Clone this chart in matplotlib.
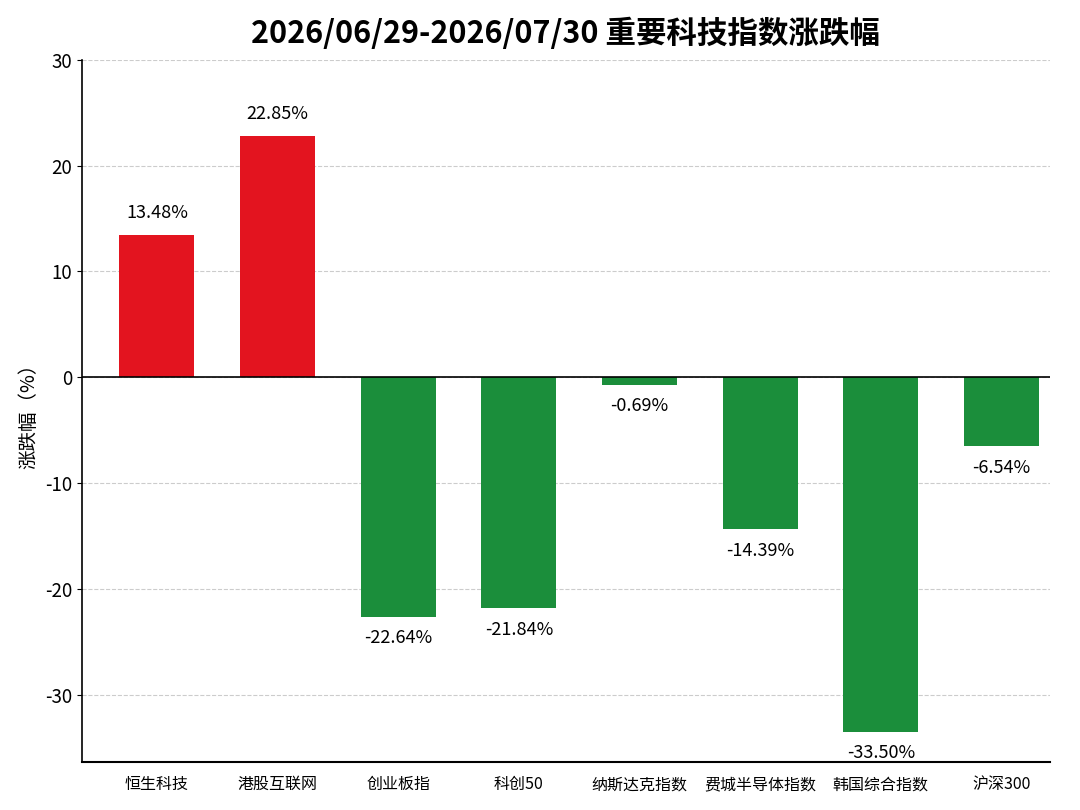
import matplotlib
matplotlib.use("Agg")
import matplotlib.pyplot as plt
import numpy as np

plt.rcParams['font.family'] = ['Noto Sans CJK SC', 'DejaVu Sans']
plt.rcParams['axes.unicode_minus'] = False

names = ["恒生科技", "港股互联网", "创业板指", "科创50", "纳斯达克指数",
         "费城半导体指数", "韩国综合指数", "沪深300"]
changes = [13.48, 22.85, -22.64, -21.84, -0.69, -14.39, -33.50, -6.54]
yticks = [-30, -20, -10, 0, 10, 20, 30]

red = "#e3141f"
green = "#1b8e3b"
colors = [red if v > 0 else green for v in changes]

fig = plt.figure(figsize=(10.8, 8.1), dpi=100)
ax = fig.add_axes([0.076, 0.059, 0.896, 0.867])

x = np.arange(len(names))
ax.bar(x, changes, width=0.62, color=colors, zorder=3)

for xi, v in zip(x, changes):
    if v > 0:
        ax.annotate(f"{v:.2f}%", (xi, v), xytext=(0, 9), textcoords="offset points",
                    ha="center", va="bottom", fontsize=13)
    else:
        ax.annotate(f"{v:.2f}%", (xi, v), xytext=(0, -9), textcoords="offset points",
                    ha="center", va="top", fontsize=13)

ax.axhline(0, color="black", lw=1.2, zorder=4)
ax.set_xlim(-0.62, 7.4)
ax.set_ylim(-36.4, 30)
ax.set_yticks(yticks)
ax.set_xticks(x)
ax.set_xticklabels(names, fontsize=11.5)
ax.tick_params(axis="y", labelsize=13.5)
ax.tick_params(axis="x", length=0, pad=10)
ax.yaxis.grid(True, linestyle="--", color="#cccccc", lw=0.8, zorder=0)
for s in ["top", "right"]:
    ax.spines[s].set_visible(False)
ax.spines["left"].set_linewidth(1.2)
ax.spines["bottom"].set_linewidth(1.5)

ax.set_ylabel("涨跌幅（%）", fontsize=14)
ax.set_title("2026/06/29-2026/07/30 重要科技指数涨跌幅", fontsize=22,
             fontweight="bold", pad=12)

fig.savefig("out.png", dpi=100)
